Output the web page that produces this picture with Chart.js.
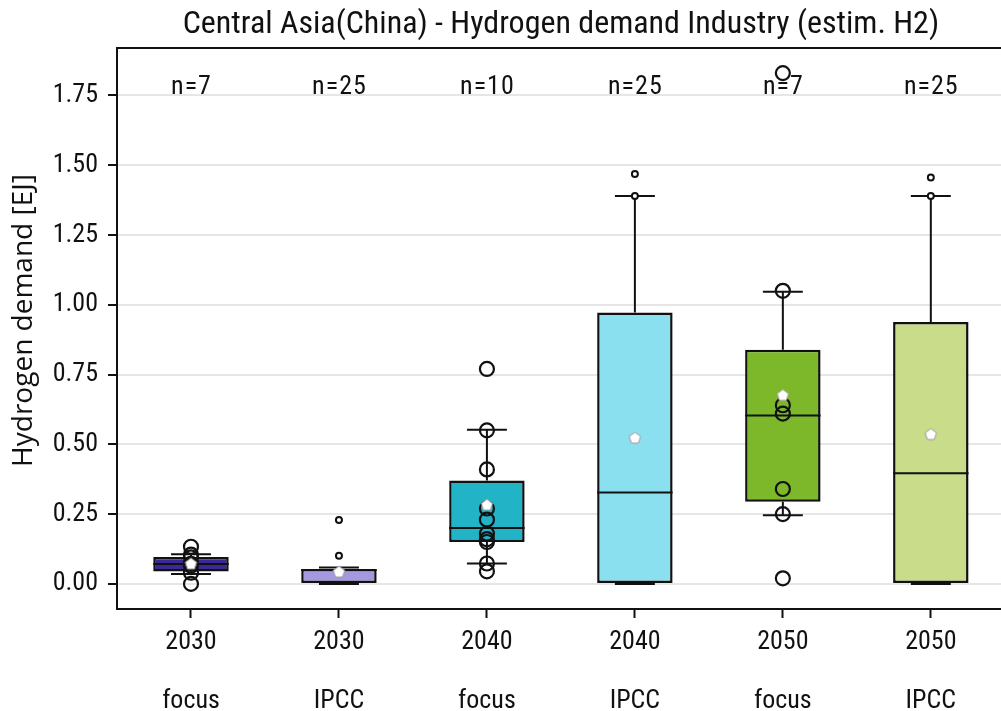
<!DOCTYPE html>
<html>
<head>
<meta charset="utf-8">
<script src="https://cdn.jsdelivr.net/npm/chart.js@4.4.1/dist/chart.umd.min.js"></script>
<style>
html, body { margin: 0; padding: 0; overflow: hidden; background: #fff; }
#chart { position: absolute; left: 0; top: 0; }
</style>
</head>
<body>
<canvas id="chart" width="1014" height="711"></canvas>
<script>
var years = ["2030", "2030", "2040", "2040", "2050", "2050"];
var sources = ["focus", "IPCC", "focus", "IPCC", "focus", "IPCC"];
var counts = [7, 25, 10, 25, 7, 25];
var boxColors = ["#3b2a96", "#a597e0", "#22b3c7", "#8be0ef", "#7db82a", "#c9dc8a"];

// box statistics per group
var q1 = [0.044, 0, 0.150, 0, 0.294, 0];
var median = [0.071, 0.050, 0.200, 0.327, 0.603, 0.396];
var q3 = [0.096, 0.053, 0.370, 0.972, 0.839, 0.938];
var whiskerLow = [0.035, 0, 0.073, 0, 0.246, 0];
var whiskerHigh = [0.106, 0.059, 0.552, 1.390, 1.047, 1.390];
var means = [0.073, 0.044, 0.284, 0.524, 0.677, 0.537];

// focus scenarios: all values are drawn
var focus2030 = [0.0, 0.04, 0.065, 0.072, 0.095, 0.105, 0.133];
var focus2040 = [0.045, 0.073, 0.15, 0.16, 0.18, 0.23, 0.27, 0.41, 0.55, 0.77];
var focus2050 = [0.02, 0.25, 0.34, 0.61, 0.64, 1.05, 1.83];

// IPCC: only fliers are drawn
var ipcc2030Fliers = [0.101, 0.229];
var ipcc2040Fliers = [1.39, 1.469];
var ipcc2050Fliers = [1.39, 1.456];

var FONT = "'Roboto Condensed', 'Open Sans', sans-serif";
var INK = "#111";

function at(x, values) {
    return values.map(function (v) { return { x: x, y: v }; });
}

function pentagon(size) {
    var c = document.createElement("canvas");
    c.width = c.height = size;
    var g = c.getContext("2d");
    var r = size / 2 - 1.5;
    g.beginPath();
    for (var k = 0; k < 5; k++) {
        var a = -Math.PI / 2 + k * 2 * Math.PI / 5;
        var px = size / 2 + r * Math.cos(a);
        var py = size / 2 + r * Math.sin(a) + r * 0.1;
        if (k === 0) g.moveTo(px, py); else g.lineTo(px, py);
    }
    g.closePath();
    g.fillStyle = "#fff";
    g.fill();
    g.strokeStyle = "#999";
    g.lineWidth = 1;
    g.stroke();
    return c;
}

// whiskers, caps and medians, drawn right after the boxes
var boxParts = {
    id: "boxParts",
    afterDatasetDraw: function (chart, args) {
        if (args.index !== 0) return;
        var ctx = chart.ctx;
        var xs = chart.scales.x, ys = chart.scales.y;
        var bars = chart.getDatasetMeta(0).data;
        var capHalf = xs.getPixelForValue(0.135) - xs.getPixelForValue(0);
        ctx.save();
        ctx.strokeStyle = INK;
        ctx.lineWidth = 2;
        years.forEach(function (_, i) {
            var cx = xs.getPixelForValue(i);
            var half = bars[i].width / 2;
            ctx.beginPath();
            ctx.moveTo(cx, ys.getPixelForValue(q3[i]));
            ctx.lineTo(cx, ys.getPixelForValue(whiskerHigh[i]));
            ctx.moveTo(cx, ys.getPixelForValue(q1[i]));
            ctx.lineTo(cx, ys.getPixelForValue(whiskerLow[i]));
            ctx.moveTo(cx - capHalf, ys.getPixelForValue(whiskerHigh[i]));
            ctx.lineTo(cx + capHalf, ys.getPixelForValue(whiskerHigh[i]));
            ctx.moveTo(cx - capHalf, ys.getPixelForValue(whiskerLow[i]));
            ctx.lineTo(cx + capHalf, ys.getPixelForValue(whiskerLow[i]));
            ctx.moveTo(cx - half, ys.getPixelForValue(median[i]));
            ctx.lineTo(cx + half, ys.getPixelForValue(median[i]));
            ctx.stroke();
        });
        ctx.restore();
    },
    beforeDatasetsDraw: function (chart) {
        var ctx = chart.ctx;
        var xs = chart.scales.x, ys = chart.scales.y;
        ctx.save();
        ctx.fillStyle = INK;
        ctx.font = "26px " + FONT;
        ctx.letterSpacing = "1px";
        ctx.textAlign = "center";
        ctx.textBaseline = "alphabetic";
        counts.forEach(function (n, i) {
            ctx.fillText("n=" + n, xs.getPixelForValue(i) + 0.5, ys.getPixelForValue(1.75) - 1);
        });
        ctx.restore();
    },
    afterDraw: function (chart) {
        var a = chart.chartArea;
        var ctx = chart.ctx;
        ctx.save();
        ctx.strokeStyle = INK;
        ctx.lineWidth = 2;
        ctx.beginPath();
        ctx.moveTo(a.left, a.top);
        ctx.lineTo(a.right, a.top);
        ctx.lineTo(a.right, a.bottom);
        ctx.stroke();
        // y axis title
        ctx.translate(24, (a.top + a.bottom) / 2 - 8);
        ctx.rotate(-Math.PI / 2);
        ctx.fillStyle = INK;
        ctx.font = "28px 'Open Sans', sans-serif";
        ctx.textAlign = "center";
        ctx.textBaseline = "middle";
        ctx.fillText("Hydrogen demand [EJ]", 0, 0);
        ctx.restore();
    }
};

var ctx = document.getElementById("chart");
var myChart = new Chart(ctx, {
    type: "bar",
    data: {
        datasets: [{
            type: "bar",
            data: q1.map(function (v, i) { return { x: i, y: [q1[i], q3[i]] }; }),
            backgroundColor: boxColors,
            borderColor: INK,
            borderWidth: 2.5,
            borderSkipped: false,
            barPercentage: 0.51,
            categoryPercentage: 1,
            order: 3
        }, {
            type: "scatter",
            data: at(0, focus2030).concat(at(2, focus2040), at(4, focus2050)),
            pointRadius: 7,
            borderWidth: 2.2,
            borderColor: INK,
            backgroundColor: "rgba(0,0,0,0)",
            order: 2
        }, {
            type: "scatter",
            data: at(1, ipcc2030Fliers).concat(at(3, ipcc2040Fliers), at(5, ipcc2050Fliers)),
            pointRadius: 3,
            borderWidth: 2,
            borderColor: INK,
            backgroundColor: "#fff",
            order: 1
        }, {
            type: "scatter",
            data: means.map(function (v, i) { return { x: i, y: v }; }),
            pointStyle: pentagon(15),
            order: 0
        }]
    },
    options: {
        responsive: false,
        devicePixelRatio: 1,
        animation: false,
        layout: { padding: 0 },
        plugins: {
            legend: { display: false },
            tooltip: { enabled: false },
            title: {
                display: true,
                fullSize: false,
                text: "Central Asia(China) - Hydrogen demand Industry (estim. H2)",
                color: INK,
                font: { family: FONT, size: 32, weight: "normal", lineHeight: 1.2 },
                padding: { top: 6, bottom: 3.6 }
            }
        },
        scales: {
            x: {
                type: "linear",
                min: -0.5,
                max: 5.5,
                offset: false,
                afterBuildTicks: function (s) {
                    s.ticks = years.map(function (_, i) { return { value: i }; });
                },
                afterFit: function (s) { s.height = 102; },
                ticks: {
                    autoSkip: false,
                    maxRotation: 0,
                    color: INK,
                    padding: -5,
                    font: { family: FONT, size: 26, lineHeight: 2.27 },
                    callback: function (v) { return [years[v], sources[v]]; }
                },
                grid: { offset: false, drawOnChartArea: false, tickLength: 9, tickColor: INK, tickWidth: 2 },
                border: { color: INK, width: 2 }
            },
            y: {
                min: -0.09,
                max: 1.92,
                afterFit: function (s) { s.width = 117; },
                ticks: {
                    stepSize: 0.25,
                    includeBounds: false,
                    color: INK,
                    padding: 10,
                    font: { family: FONT, size: 26 },
                    callback: function (v) { return v.toFixed(2); }
                },
                grid: { color: "#e6e6e6", lineWidth: 2, tickColor: INK, tickLength: 9, tickWidth: 2 },
                border: { color: INK, width: 2 }
            }
        }
    },
    plugins: [boxParts]
});
</script>
</body>
</html>
